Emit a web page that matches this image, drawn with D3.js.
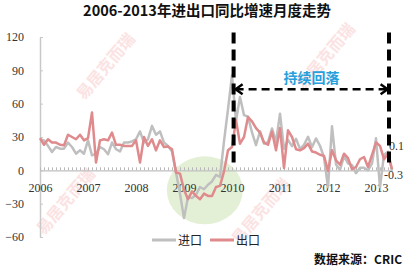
<!DOCTYPE html>
<html>
<head>
<meta charset="utf-8">
<script src="https://cdn.jsdelivr.net/npm/d3@7"></script>
<style>
  body { margin: 0; background: #fff; }
  svg { display: block; }
</style>
</head>
<body>
<div id="chart"></div>
<script>
// Dados: Jan 2006 - Mai 2013, variação anual (%)
const years = ["2006", "2007", "2008", "2009", "2010", "2011", "2012", "2013"];
const yTicks = [-60, -30, 0, 30, 60, 90, 120];
const seriesNames = ["进口", "出口"];

const importData = [
  28, 27, 22, 16.5, 21, 19.5, 19.5, 25, 21, 15, 18, 15,
  27, 13.5, 15, 21, 19, 14.5, 25, 19, 17, 25, 25, 26,
  28, 35, 25, 28, 40, 32, 35, 25, 22, 17, -2, -21,
  -43, -24, -25, -22, -15, -17, -13, -10, -4, -6, 26, 55,
  85.5, 44.7, 66, 49.7, 48.3, 34.1, 22.7, 35.2, 24.1, 25.3, 37.7, 25.6,
  51, 19.4, 27.3, 21.8, 28.4, 19.3, 22.9, 30.2, 20.9, 28.7, 22.1, 11.8,
  -15.3, 39.6, 5.3, 0.3, 12.7, 6.3, 4.7, -2.6, 2.4, 2.4, 0, 6,
  28.8, -15.2, 14.1, 16.8, -0.3
];

const exportData = [
  29, 23, 28, 25, 25, 23, 22.5, 32, 30, 28, 32, 27,
  29, 52, 7, 27, 28, 27, 34, 23, 23, 22, 22, 22,
  27, 7, 30, 22, 28, 18, 27, 21, 21.5, 19, -2, -3,
  -17.5, -26, -19, -23, -26, -21, -23, -23, -15, -14, -1, 18,
  21, 45, 24, 30, 48, 44, 38, 34, 25, 23, 35, 18,
  38, 2, 36, 30, 19, 18, 20, 24, 17, 16, 14, 13,
  -0.5, 18, 9, 5, 15, 11, 1, 3, 10, 12, 3, 14,
  25, 22, 10, 15, 1
];

const width = 407,
  height = 266;

const svg = d3
  .select("#chart")
  .append("svg")
  .attr("width", width)
  .attr("height", height);

// escalas
const x = d3.scaleLinear().domain([0, 88]).range([40, 392]);
const y = d3.scaleLinear().domain([-60, 120]).range([237, 37]);

// marca d'agua (bem clara)
const wm = [
  [110, 70], [330, 60], [265, 215], [70, 205]
];
svg
  .selectAll(".wm")
  .data(wm)
  .enter()
  .append("text")
  .attr("transform", (d) => `translate(${d[0]},${d[1]}) rotate(-50)`)
  .attr("text-anchor", "middle")
  .style("font-family", "Noto Sans CJK SC")
  .style("font-size", "16px")
  .style("font-weight", "bold")
  .style("fill", "#fbe3e3")
  .text("易居克而瑞");

// circulo verde
svg
  .append("ellipse")
  .attr("cx", x(41.2))
  .attr("cy", y(-18))
  .attr("rx", 38)
  .attr("ry", 34)
  .attr("fill", "#e4f0d5");

// titulo
svg
  .append("text")
  .attr("x", 207)
  .attr("y", 16)
  .attr("text-anchor", "middle")
  .style("font-family", "Noto Sans CJK SC")
  .style("font-weight", "bold")
  .style("font-size", "14.5px")
  .style("fill", "#111")
  .text("2006-2013年进出口同比增速月度走势");

// eixo Y
const yAxis = svg
  .append("g")
  .attr("transform", `translate(${x(0)},0)`)
  .call(d3.axisLeft(y).tickValues(yTicks).tickSize(-3).tickSizeOuter(0).tickPadding(16));
yAxis.select(".domain").attr("stroke", "#c8c8c8").attr("stroke-width", 1.5);
yAxis.selectAll(".tick line").attr("stroke", "#c8c8c8");
yAxis
  .selectAll("text")
  .style("font-family", "Liberation Serif")
  .style("font-size", "12px")
  .style("fill", "#333");

// eixo X: tracinhos mensais na linha zero
const xAxis = svg
  .append("g")
  .attr("transform", `translate(0,${y(0)})`)
  .call(
    d3.axisBottom(x).tickValues(d3.range(0, 88)).tickSize(-3).tickSizeOuter(0).tickFormat("")
  );
xAxis.select(".domain").attr("stroke", "#c0c0c0").attr("stroke-width", 1.2);
xAxis.selectAll(".tick line").attr("stroke", "#b8b8b8");

const xLabels = svg
  .append("g")
  .attr("transform", `translate(0,${y(0)})`)
  .call(
    d3.axisBottom(x).tickValues(years.map((d, i) => i * 12)).tickSize(0).tickPadding(13)
      .tickFormat((d, i) => years[i])
  );
xLabels.select(".domain").remove();
xLabels
  .selectAll("text")
  .style("font-family", "Liberation Serif")
  .style("font-size", "12px")
  .style("fill", "#333");

// linhas
const line = d3
  .line()
  .x((d, i) => x(i))
  .y((d) => y(d));

svg
  .append("path")
  .datum(importData)
  .attr("d", line)
  .attr("fill", "none")
  .attr("stroke", "#bfbfbf")
  .attr("stroke-width", 2.5)
  .attr("stroke-linejoin", "round");

svg
  .append("path")
  .datum(exportData)
  .attr("d", line)
  .attr("fill", "none")
  .attr("stroke", "#df8a8c")
  .attr("stroke-width", 2.5)
  .attr("stroke-linejoin", "round");

// rotulos soltos a direita
svg
  .append("text")
  .attr("x", 389)
  .attr("y", 150)
  .style("font-family", "Liberation Serif")
  .style("font-size", "12px")
  .style("fill", "#333")
  .text("0.1");
svg
  .append("text")
  .attr("x", 384)
  .attr("y", 179)
  .style("font-family", "Liberation Serif")
  .style("font-size", "12px")
  .style("fill", "#333")
  .text("-0.3");

// linhas tracejadas verticais
[48.4, 87.25].forEach((m) => {
  svg
    .append("line")
    .attr("x1", x(m))
    .attr("x2", x(m))
    .attr("y1", y(124))
    .attr("y2", y(4.5))
    .attr("stroke", "#000")
    .attr("stroke-width", 4)
    .attr("stroke-dasharray", "11,6");
});

// seta dupla
const ay = y(73),
  ax0 = x(48.9),
  ax1 = x(86.9);
svg
  .append("line")
  .attr("x1", ax0)
  .attr("x2", ax1)
  .attr("y1", ay)
  .attr("y2", ay)
  .attr("stroke", "#000")
  .attr("stroke-width", 2.5)
  .attr("stroke-dasharray", "8,5");
svg
  .append("path")
  .attr("d", `M${ax0 + 7},${ay - 5}L${ax0},${ay}L${ax0 + 7},${ay + 5}`)
  .attr("fill", "none")
  .attr("stroke", "#000")
  .attr("stroke-width", 2.5);
svg
  .append("path")
  .attr("d", `M${ax1 - 7},${ay - 5}L${ax1},${ay}L${ax1 - 7},${ay + 5}`)
  .attr("fill", "none")
  .attr("stroke", "#000")
  .attr("stroke-width", 2.5);

svg
  .append("text")
  .attr("x", (ax0 + ax1) / 2)
  .attr("y", 83)
  .attr("text-anchor", "middle")
  .style("font-family", "Noto Sans CJK SC")
  .style("font-weight", "bold")
  .style("font-size", "14px")
  .style("fill", "#25a0dc")
  .text("持续回落");

// legenda
const legColors = ["#bfbfbf", "#df8a8c"];
const leg = svg
  .selectAll(".leg")
  .data(seriesNames)
  .enter()
  .append("g")
  .attr("transform", (d, i) => `translate(${152 + i * 58},240)`);
leg
  .append("line")
  .attr("x1", 0)
  .attr("x2", 24)
  .attr("stroke", (d, i) => legColors[i])
  .attr("stroke-width", 3);
leg
  .append("text")
  .attr("x", 26)
  .attr("y", 5)
  .style("font-family", "Noto Sans CJK SC")
  .style("font-size", "12px")
  .style("fill", "#222")
  .text((d) => d);

// fonte
svg
  .append("text")
  .attr("x", 402)
  .attr("y", 264)
  .attr("text-anchor", "end")
  .style("font-family", "Noto Sans CJK SC")
  .style("font-weight", "bold")
  .style("font-size", "12px")
  .style("fill", "#111")
  .text("数据来源：CRIC");
</script>
</body>
</html>
